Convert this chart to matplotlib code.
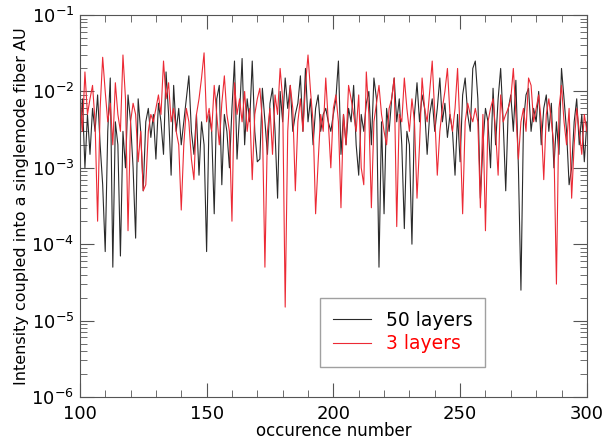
import numpy as np
import matplotlib.pyplot as plt
from matplotlib.ticker import MultipleLocator, LogLocator, NullFormatter

occurrence = np.arange(100, 301)

layers50 = [
    2e-3, 8e-3, 1e-3, 5e-3, 1.5e-3, 6e-3, 3e-3, 9e-3, 2e-3, 6e-4,
    8e-5, 3e-3, 1.5e-2, 5e-5, 4e-3, 2e-3, 7e-5, 3e-3, 1e-3, 9e-3,
    4e-3, 1e-3, 1.2e-4, 8e-3, 3e-3, 5e-4, 4e-3, 6e-3, 2.5e-3, 5e-3,
    1.3e-3, 7e-3, 4e-3, 1.5e-3, 1.8e-2, 5e-3, 8e-4, 1.2e-2, 3e-3, 6e-3,
    2e-3, 4e-3, 8e-3, 1.6e-2, 3e-3, 1.5e-3, 5e-3, 8e-4, 4e-3, 2e-3,
    8e-5, 5e-3, 3e-3, 2.5e-4, 8e-3, 1.2e-2, 6e-4, 5e-3, 3e-3, 1e-3,
    6e-3, 2.5e-2, 1.3e-3, 5e-3, 2.7e-2, 2e-3, 8e-3, 4e-3, 2.5e-2, 3e-3,
    1.2e-3, 1.3e-3, 1.1e-2, 4e-3, 1.5e-3, 7e-3, 1.1e-2, 3e-3, 4e-4, 1e-2,
    4e-3, 1.5e-2, 6e-3, 1.2e-2, 3e-3, 5e-3, 7e-3, 1.6e-2, 3e-3, 2e-2,
    4e-3, 8e-3, 2e-3, 6e-3, 9e-3, 3e-3, 5e-3, 6e-3, 4e-3, 3e-3,
    5e-3, 8e-3, 2.5e-2, 1.5e-3, 5e-3, 2e-3, 6e-3, 4e-3, 1.2e-2, 2e-3,
    8e-4, 5e-3, 3e-3, 7e-3, 1e-2, 2e-3, 1.5e-2, 8e-3, 5e-5, 4e-3,
    2.5e-4, 6e-3, 3e-3, 8e-3, 1.5e-2, 4e-3, 8e-3, 2e-3, 1.6e-4, 3e-3,
    2e-3, 1e-4, 5e-3, 1.3e-2, 4e-3, 9e-3, 6e-3, 1.5e-3, 5e-3, 8e-3,
    3e-3, 6e-3, 1.5e-2, 4e-3, 7e-3, 2.5e-3, 5e-3, 3e-3, 8e-4, 5e-3,
    1.2e-3, 9e-3, 1.5e-2, 5e-3, 3e-3, 2e-2, 2.5e-2, 8e-3, 4e-4, 2e-3,
    6e-3, 4e-3, 1e-3, 1.1e-2, 2e-3, 8e-3, 2e-2, 4e-3, 5e-4, 6e-3,
    9e-3, 3e-3, 1.4e-2, 1e-3, 2.5e-5, 4e-3, 9e-3, 1.1e-2, 3e-3, 6e-3,
    4e-3, 1e-2, 2e-3, 6e-3, 9e-3, 3e-3, 7e-3, 1e-3, 4e-3, 1.5e-3,
    2e-2, 8e-3, 3e-3, 6e-4, 1e-3, 4e-3, 8e-3, 2e-3, 5e-3, 1.2e-3,
    4e-3,
]

layers3 = [
    1e-2, 3e-3, 1.8e-2, 5e-3, 8e-3, 1.2e-2, 4e-3, 2e-4, 6e-3, 2.8e-2,
    1e-2, 4e-3, 7e-3, 2e-3, 1.3e-2, 5e-3, 3e-3, 3e-2, 8e-3, 1.5e-4,
    4e-3, 7e-3, 5e-3, 1.2e-3, 3e-3, 5e-4, 6e-4, 3e-3, 5e-3, 4e-3,
    6e-3, 9e-3, 5e-3, 2.5e-2, 8e-3, 1.3e-2, 4e-3, 6e-3, 3e-3, 2e-3,
    2.8e-4, 2e-3, 6e-3, 4e-3, 1.3e-3, 7e-4, 5e-3, 8e-3, 1.5e-2, 3.2e-2,
    4e-3, 6e-3, 3e-3, 1.2e-2, 5e-3, 2e-3, 7e-3, 1.6e-2, 5e-3, 3e-3,
    2e-4, 1.3e-2, 5e-3, 8e-3, 4e-3, 1e-2, 3e-3, 6e-3, 7e-4, 5e-3,
    8e-3, 1.1e-2, 4e-3, 5e-5, 3e-3, 6e-3, 1.5e-3, 9e-3, 5e-3, 2e-2,
    8e-3, 1.5e-5, 3e-3, 1.2e-2, 6e-3, 5e-4, 4e-3, 8e-3, 3e-3, 1.2e-2,
    3e-2, 1e-2, 4e-3, 2.5e-4, 1.2e-3, 5e-3, 3e-3, 1.5e-2, 4e-3, 1e-3,
    6e-3, 9e-3, 4e-3, 3e-4, 5e-3, 2e-3, 1.2e-2, 8e-3, 5e-3, 3e-3,
    9e-3, 1e-3, 6e-4, 1.8e-2, 5e-3, 3e-4, 4e-3, 7e-3, 1.2e-2, 5e-3,
    3e-3, 2e-3, 6e-3, 8e-3, 1.5e-2, 1.7e-4, 5e-3, 4e-3, 1.5e-2, 6e-3,
    3e-3, 8e-3, 4e-3, 4e-4, 2e-3, 1.5e-2, 6e-3, 4e-3, 1e-2, 2.5e-2,
    5e-3, 8e-4, 3e-3, 6e-3, 1e-2, 2e-2, 5e-3, 3e-3, 6e-3, 2e-2,
    3e-3, 2.5e-4, 4e-3, 7e-3, 5e-3, 4e-3, 6e-3, 4e-3, 3e-4, 5e-3,
    1.5e-4, 4e-3, 6e-3, 8e-3, 3e-3, 8e-4, 9e-3, 4e-3, 5e-3, 6e-3,
    8e-3, 2e-2, 5e-3, 1.3e-3, 4e-3, 6e-3, 3e-3, 1.5e-2, 1.2e-2, 4e-3,
    6e-3, 9e-3, 4e-3, 7e-4, 5e-3, 8e-3, 4e-3, 2e-3, 3e-5, 6e-3,
    1.2e-2, 4e-3, 2e-3, 6e-3, 4e-4, 2e-3, 6e-3, 3e-3, 1.5e-3, 5e-3,
    3e-3,
]

fig = plt.figure(figsize=(6.05, 4.43), dpi=100)
ax = fig.add_axes([0.132, 0.104, 0.838, 0.862])

ax.plot(occurrence, layers50, color="#2a2a2a", lw=0.8, label="50 layers")
ax.plot(occurrence, layers3, color="#ec2a35", lw=0.8, label="3 layers")

ax.set_yscale("log")
ax.set_xlim(100, 300)
ax.set_ylim(1e-6, 1e-1)
ax.xaxis.set_major_locator(MultipleLocator(50))
ax.xaxis.set_minor_locator(MultipleLocator(10))
ax.yaxis.set_major_locator(LogLocator(base=10, numticks=10))
ax.yaxis.set_minor_locator(LogLocator(base=10, subs=np.arange(2, 10), numticks=20))
ax.yaxis.set_minor_formatter(NullFormatter())

ax.tick_params(which="both", direction="in", top=True, right=True, color="#555555")
ax.tick_params(which="major", length=10, labelsize=13, pad=4)
ax.tick_params(axis="x", which="major", pad=6)
ax.tick_params(which="minor", length=5)
for s in ax.spines.values():
    s.set_color("#555555")

ax.set_xlabel("occurence number", fontsize=12, labelpad=-1)
ax.set_ylabel("Intensity coupled into a singlemode fiber AU", fontsize=11.5, labelpad=2)

leg = ax.legend(loc="lower left", bbox_to_anchor=(0.455, 0.055), fontsize=13.5,
                handlelength=2.0, fancybox=False, edgecolor="#888888",
                borderpad=0.7, labelspacing=0.25)
leg.get_texts()[0].set_color("black")
leg.get_texts()[1].set_color("red")

fig.savefig("out.png", dpi=100)
